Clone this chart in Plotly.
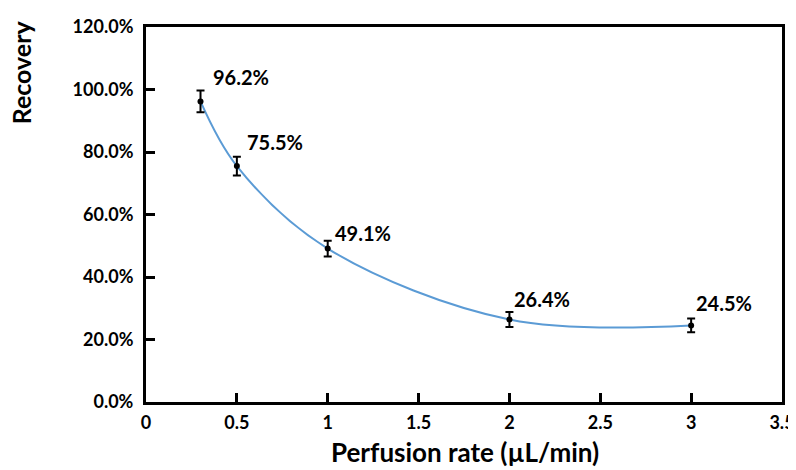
import plotly.graph_objects as go

rates = [0.3, 0.5, 1, 2, 3]
recovery = [96.2, 75.5, 49.1, 26.4, 24.5]
errors = [3.5, 3.0, 2.5, 2.4, 2.2]
labels = ["96.2%", "75.5%", "49.1%", "26.4%", "24.5%"]
y_ticks = [0, 20, 40, 60, 80, 100, 120]
y_tick_text = ["0.0%", "20.0%", "40.0%", "60.0%", "80.0%", "100.0%", "120.0%"]
x_ticks = [0, 0.5, 1, 1.5, 2, 2.5, 3, 3.5]
x_tick_text = ["0", "0.5", "1", "1.5", "2", "2.5", "3", "3.5"]

label_shift_x = [10, 8, 5, 3, 3]
label_shift_y = [10, 10, 2, 7, 8]

FONT = "Lato"

fig = go.Figure()
fig.add_trace(go.Scatter(
    x=rates, y=recovery, mode="lines",
    line=dict(color="#5B9BD5", width=2, shape="spline", smoothing=1.0),
    hoverinfo="skip", showlegend=False,
))
fig.add_trace(go.Scatter(
    x=rates, y=recovery, mode="markers",
    marker=dict(color="black", size=6),
    error_y=dict(type="data", array=errors, color="black", thickness=2, width=4),
    showlegend=False,
))

for x, y, t, sx, sy in zip(rates, recovery, labels, label_shift_x, label_shift_y):
    fig.add_annotation(x=x, y=y, text=t, showarrow=False, xanchor="left", yanchor="bottom",
                       xshift=sx, yshift=sy,
                       font=dict(family=FONT, size=20, color="black", weight="bold"))

fig.add_annotation(xref="paper", yref="paper", x=-0.196, y=0.88, text="Recovery",
                   textangle=-90, showarrow=False, xanchor="center", yanchor="middle",
                   font=dict(family=FONT, size=25, color="black", weight="bold"))
fig.add_annotation(xref="paper", yref="paper", x=0.5016, y=-0.133, text="Perfusion rate (µL/min)",
                   showarrow=False, xanchor="center", yanchor="middle",
                   font=dict(family=FONT, size=26, color="black", weight="bold"))

axis_common = dict(
    ticks="inside", ticklen=9, tickwidth=3, tickcolor="black",
    showline=True, linewidth=3, linecolor="black", mirror=True,
    showgrid=False, zeroline=False, automargin=False,
    tickfont=dict(family=FONT, size=18, color="black", weight="bold"),
)

# page body has an 8px default margin; figure sized so the plot box lands where the reference has it
fig.update_layout(
    width=788, height=462,
    margin=dict(l=138, r=14, t=19, b=68),
    paper_bgcolor="white", plot_bgcolor="white",
    font=dict(family=FONT, color="black"),
    xaxis=dict(range=[0, 3.5], tickvals=x_ticks, ticktext=x_tick_text, ticklabelstandoff=2, **axis_common),
    yaxis=dict(range=[0, 120], tickvals=y_ticks, ticktext=y_tick_text, ticklabelstandoff=6, **axis_common),
)

fig.write_html("out.html")
